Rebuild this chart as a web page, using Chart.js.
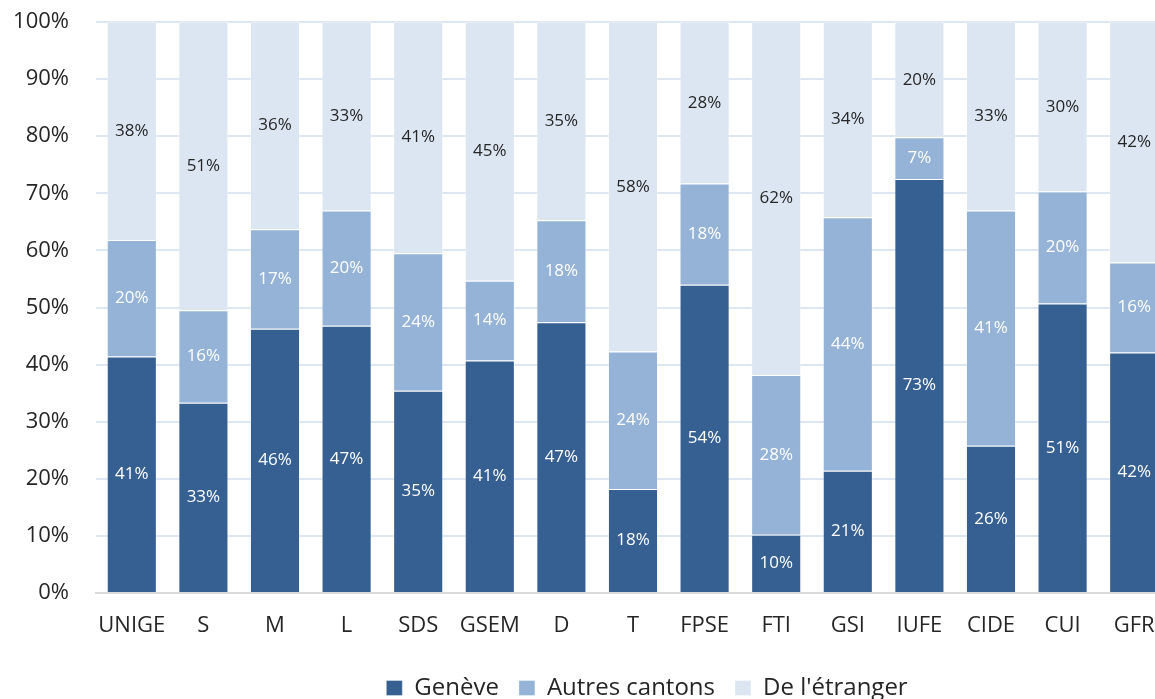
<!DOCTYPE html>
<html>
<head>
<meta charset="utf-8">
<script src="https://cdn.jsdelivr.net/npm/chart.js@4"></script>
<style>
  html, body { margin:0; padding:0; background:#fff; overflow:hidden; }
  #wrap { width:1180px; height:699px; }
</style>
</head>
<body>
<div id="wrap"><canvas id="chart" width="1180" height="699"></canvas></div>
<script>
const categories = ['UNIGE','S','M','L','SDS','GSEM','D','T','FPSE','FTI','GSI','IUFE','CIDE','CUI','GFR'];
const geneve     = [41.4, 33.3, 46.3, 46.8, 35.4, 40.7, 47.4, 18.2, 54.0, 10.2, 21.4, 72.5, 25.8, 50.7, 42.1];
const autres     = [20.4, 16.2, 17.4, 20.2, 24.1, 14.0, 17.9, 24.1, 17.7, 28.0, 44.4,  7.3, 41.2, 19.6, 15.8];
const etranger   = [38.2, 50.5, 36.3, 33.0, 40.5, 45.3, 34.7, 57.7, 28.3, 61.8, 34.2, 20.2, 33.0, 29.7, 42.1];
const yTicks     = [0,10,20,30,40,50,60,70,80,90,100];

const FONT = "'Open Sans', 'Noto Sans', sans-serif";
const TXT = '#262626';

// etiquettes au milieu de chaque segment
const valueLabels = {
  id:'valueLabels',
  afterDatasetsDraw(chart){
    const {ctx} = chart;
    ctx.save();
    ctx.font = `17px ${FONT}`;
    ctx.textAlign = 'center';
    ctx.textBaseline = 'middle';
    chart.data.datasets.forEach((ds, di)=>{
      ctx.fillStyle = ds.labelColor;
      chart.getDatasetMeta(di).data.forEach((bar, i)=>{
        const v = ds.data[i]; if (v == null) return;
        ctx.fillText(Math.round(v)+'%', bar.x, (bar.y + bar.base)/2);
      });
    });
    ctx.restore();
  }
};

// place la légende comme dans l'original (un peu à droite et plus bas)
const legendShift = {
  id:'legendShift',
  afterLayout(chart){
    const l = chart.legend; if (!l) return;
    const dx = 647 - (l.left + l.right)/2;
    const dy = 11;
    l.left += dx; l.right += dx;
    l.top += dy; l.bottom += dy;
  }
};

const mk = (label, data, color, labelColor)=> ({
  label, data, backgroundColor:color, labelColor,
  borderColor:'rgba(255,255,255,0.35)', borderWidth:1,
  barPercentage:0.7, categoryPercentage:1
});

new Chart(document.getElementById('chart').getContext('2d'), {
  type:'bar',
  data:{
    labels:categories,
    datasets:[
      mk('Genève', geneve, '#376092', '#ffffff'),
      mk('Autres cantons', autres, '#95b3d7', '#ffffff'),
      mk("De l'étranger", etranger, '#dce6f2', TXT)
    ]
  },
  options:{
    responsive:false, animation:false,
    layout:{ padding:{ top:22, left:10, right:10, bottom:0 } },
    plugins:{
      legend:{ position:'bottom',
        labels:{ font:{ family:FONT, size:24 }, color:TXT, boxWidth:16, boxHeight:15, padding:20 } },
      tooltip:{ enabled:false }
    },
    scales:{
      x:{ stacked:true,
        afterFit:(s)=>{ s.height = 52; },
        grid:{ display:false },
        border:{ color:'#d9d9d9', width:2 },
        ticks:{ font:{ family:FONT, size:22 }, color:TXT, padding:12, maxRotation:0, autoSkip:false } },
      y:{ stacked:true, min:0, max:100,
        afterFit:(s)=>{ s.width = 86; s.paddingTop = 0; s.paddingBottom = 0; },
        afterBuildTicks:(s)=>{ s.ticks = yTicks.map(v=>({ value:v })); },
        grid:{ color:'#dde7f3', lineWidth:2, drawTicks:false },
        border:{ display:false },
        ticks:{ font:{ family:FONT, size:22 }, color:TXT, padding:27, callback:(v)=> v+'%' } }
    }
  },
  plugins:[valueLabels, legendShift]
});
</script>
</body>
</html>
